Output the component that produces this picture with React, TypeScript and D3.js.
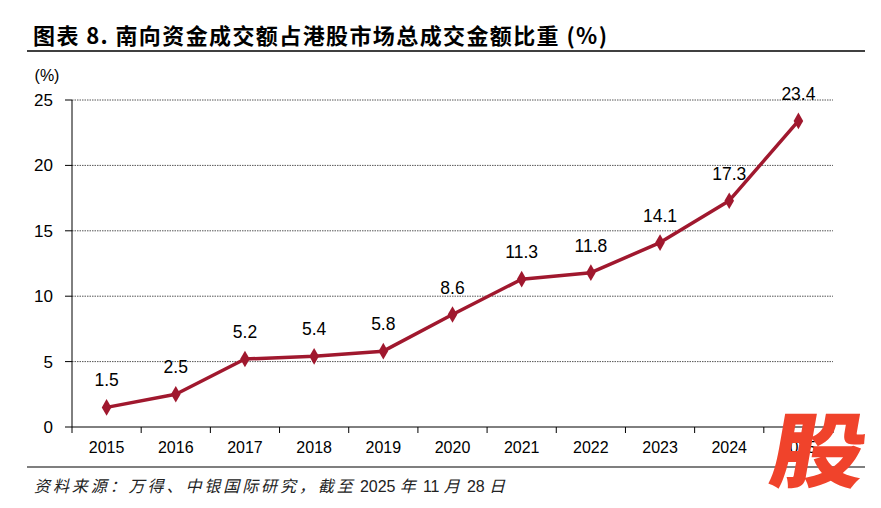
import React from 'react';
import * as d3 from 'd3';

const years = ['2015', '2016', '2017', '2018', '2019', '2020', '2021', '2022', '2023', '2024', '2025'];
const shares = [1.5, 2.5, 5.2, 5.4, 5.8, 8.6, 11.3, 11.8, 14.1, 17.3, 23.4];
const yTicks = [0, 5, 10, 15, 20, 25];

const title = '图表 8. 南向资金成交额占港股市场总成交金额比重 (%)';
// source line: [text, isDigits]
const sourceParts: [string, boolean][] = [
  ['资料来源：万得、中银国际研究，截至', false],
  [' 2025 ', true],
  ['年', false],
  [' 11 ', true],
  ['月', false],
  [' 28 ', true],
  ['日', false],
];

const W = 881;
const H = 508;
const red = '#A0182E';
const sans = '"Liberation Sans", Arial, sans-serif';
const cjk = '"Noto Sans CJK SC", sans-serif';

const App: React.FC = () => {
  const plot = { left: 72, right: 833, top: 100, bottom: 427 };

  const x = d3.scaleBand<string>().domain(years).range([plot.left, plot.right]);
  const y = d3.scaleLinear().domain([0, 25]).range([plot.bottom, plot.top]);
  const cx = (yr: string) => (x(yr) as number) + x.bandwidth() / 2;

  const line = d3.line<number>()
    .x((_, i) => cx(years[i]))
    .y(d => y(d));

  const diamond = d3.symbol().type(d3.symbolDiamond).size(80)() as string;
  const bounds = [...years.map(yr => x(yr) as number), plot.right];

  return (
    <svg width={W} height={H} style={{ position: 'absolute', left: 0, top: 0, background: '#fff' }}>
      <text x={33} y={44} fontFamily={cjk} fontWeight={700} fontSize={22}
        textLength={574} lengthAdjust="spacing" fill="#000">{title}</text>
      <line x1={27} x2={865} y1={51} y2={51} stroke="#000" strokeWidth={1.6} />

      <text x={47} y={81} textAnchor="middle" fontFamily={sans} fontSize={16}>(%)</text>

      {yTicks.map(t => (
        <g key={t}>
          {t > 0 && (
            <line x1={plot.left} x2={plot.right} y1={y(t)} y2={y(t)}
              stroke="#555" strokeWidth={1} strokeDasharray="1.5,1" />
          )}
          <line x1={65} x2={plot.left} y1={y(t)} y2={y(t)} stroke="#000" strokeWidth={1} />
          <text x={53} y={y(t) + 6} textAnchor="end" fontFamily={sans} fontSize={17}>{t}</text>
        </g>
      ))}

      <line x1={plot.left} x2={plot.left} y1={plot.top} y2={plot.bottom} stroke="#000" strokeWidth={1} />
      <line x1={plot.left} x2={plot.right} y1={plot.bottom} y2={plot.bottom} stroke="#000" strokeWidth={1} />
      {bounds.map((b, i) => (
        <line key={i} x1={b} x2={b} y1={plot.bottom} y2={plot.bottom + 6} stroke="#000" strokeWidth={1} />
      ))}
      {years.map(yr => (
        <text key={yr} x={cx(yr)} y={453} textAnchor="middle" fontFamily={sans} fontSize={16}>{yr}</text>
      ))}

      <path d={line(shares) as string} fill="none" stroke={red} strokeWidth={3.5} strokeLinejoin="round" />
      {shares.map((v, i) => (
        <g key={years[i]}>
          <path d={diamond} transform={`translate(${cx(years[i])},${y(v)})`} fill={red} />
          <text x={cx(years[i])} y={y(v) - 21} textAnchor="middle" fontFamily={sans} fontSize={17.5}>
            {v.toFixed(1)}
          </text>
        </g>
      ))}

      <line x1={27} x2={865} y1={467} y2={467} stroke="#000" strokeWidth={1.2} />
      <text x={34} y={492} fontSize={16} fill="#222" textLength={474} lengthAdjust="spacing"
        style={{ whiteSpace: 'pre' }}>
        {sourceParts.map(([s, digits], i) => (
          <tspan key={i} fontFamily={digits ? sans : cjk} fontStyle={digits ? 'normal' : 'italic'}
            letterSpacing={digits ? 0 : 3}>{s}</tspan>
        ))}
      </text>

      <text fontFamily={cjk} fontWeight={900} fontSize={82} textAnchor="middle"
        fill="#F0432B" transform="translate(814,481) skewX(-10) scale(1.15,1)">股</text>
    </svg>
  );
};

export default App;
